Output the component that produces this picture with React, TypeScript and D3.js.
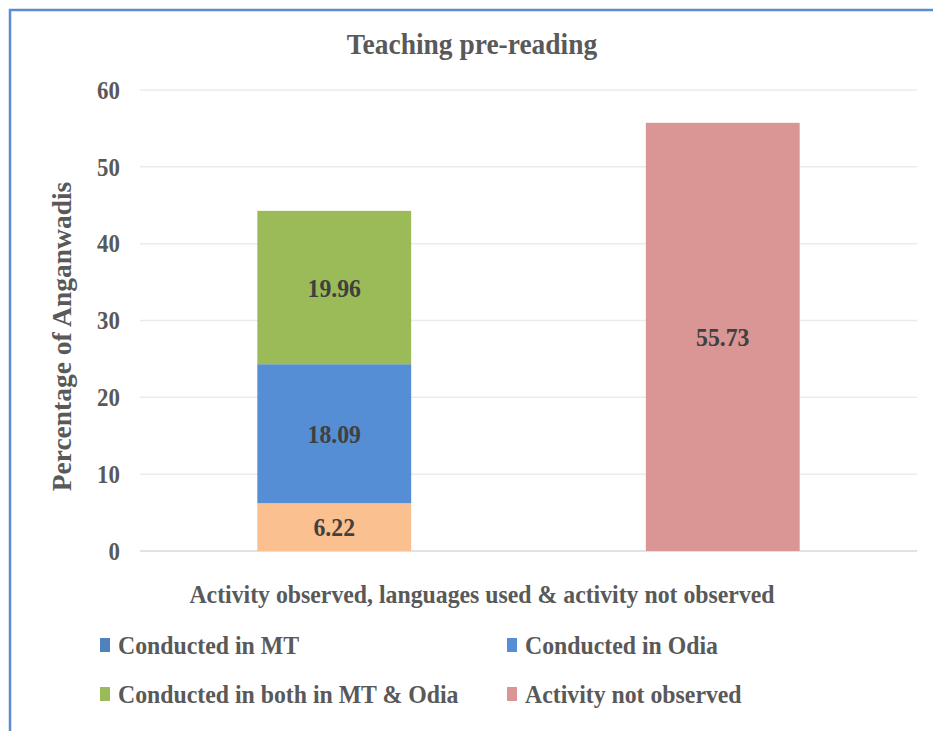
import React from 'react';
import * as d3 from 'd3';

const categories = ['Activity observed', 'Activity not observed'];
const seriesNames = [
  'Conducted in MT',
  'Conducted in Odia',
  'Conducted in both in MT & Odia',
  'Activity not observed',
];
const mtValues = [6.22, 0];
const odiaValues = [18.09, 0];
const bothValues = [19.96, 0];
const notObservedValues = [0, 55.73];
const yTicks = [0, 10, 20, 30, 40, 50, 60];

// bar fill colours, and the legend swatches as they appear in the picture
const barColors = ['#FAC090', '#558ED5', '#9BBB59', '#D99694'];
const legendColors = ['#4F81BD', '#558ED5', '#9BBB59', '#D99694'];

const W = 933;
const H = 731;
const margin = { top: 90, right: 16, bottom: 180, left: 140 };
const font = '"Liberation Serif", "Times New Roman", serif';
const squeeze = 0.915;

function squeezed(anchor: 'start' | 'middle' | 'end'): React.CSSProperties {
  const origin = anchor === 'start' ? 'left center' : anchor === 'end' ? 'right center' : 'center center';
  return { transform: `scaleX(${squeeze})`, transformBox: 'fill-box', transformOrigin: origin } as React.CSSProperties;
}

export default function App() {
  const rows = categories.map((c, i) => ({
    cat: c,
    s0: mtValues[i],
    s1: odiaValues[i],
    s2: bothValues[i],
    s3: notObservedValues[i],
  }));
  const stacked = d3.stack<any>().keys(['s0', 's1', 's2', 's3'])(rows);

  const x = d3
    .scaleBand()
    .domain(categories)
    .range([margin.left, W - margin.right])
    .paddingInner(0.604)
    .paddingOuter(0.302);
  const y = d3.scaleLinear().domain([0, 60]).range([H - margin.bottom, margin.top]);

  const legendX = [100, 507];
  const legendY = [645, 694];

  return (
    <svg
      width={W}
      height={H}
      style={{ position: 'absolute', left: 0, top: 0, background: '#fff' }}
      fontFamily={font}
      fontWeight="bold"
    >
      <path d={`M10,${H} L10,10 L${W},10`} fill="none" stroke="#5B8BD0" strokeWidth={2.5} />

      <text x={472} y={54} textAnchor="middle" fontSize={30} fill="#595959" style={squeezed('middle')}>
        Teaching pre-reading
      </text>

      {/* grid */}
      {yTicks.map(t => (
        <g key={t}>
          <line
            x1={margin.left}
            x2={W - margin.right}
            y1={y(t)}
            y2={y(t)}
            stroke={t === 0 ? '#D9D9D9' : '#EBEBEB'}
            strokeWidth={1.5}
          />
          <text x={120} y={y(t)} dy="0.35em" textAnchor="end" fontSize={25} fill="#595959" style={squeezed('end')}>
            {t}
          </text>
        </g>
      ))}

      <text
        transform={`translate(71,${(y(0) + y(60)) / 2 + 16}) rotate(-90)`}
        textAnchor="middle"
        fontSize={27.5}
        fill="#595959"
      >
        Percentage of Anganwadis
      </text>

      {/* bars */}
      {stacked.map((layer, si) => (
        <g key={layer.key} fill={barColors[si]}>
          {layer.map((d, i) =>
            d[1] - d[0] > 0 ? (
              <rect
                key={i}
                x={x(categories[i])}
                y={y(d[1])}
                width={x.bandwidth()}
                height={y(d[0]) - y(d[1])}
              />
            ) : null
          )}
        </g>
      ))}
      {stacked.map((layer, si) =>
        layer.map((d, i) =>
          d[1] - d[0] > 0 ? (
            <text
              key={`${si}-${i}`}
              x={(x(categories[i]) as number) + x.bandwidth() / 2}
              y={(y(d[0]) + y(d[1])) / 2}
              dy="0.35em"
              textAnchor="middle"
              fontSize={26}
              fill="#404040"
              style={squeezed('middle')}
            >
              {(d[1] - d[0]).toFixed(2)}
            </text>
          ) : null
        )
      )}

      <text x={482} y={603} textAnchor="middle" fontSize={26} fill="#595959" style={squeezed('middle')}>
        Activity observed, languages used &amp; activity not observed
      </text>

      {/* legend */}
      {seriesNames.map((name, i) => {
        const lx = legendX[i % 2];
        const ly = legendY[Math.floor(i / 2)];
        return (
          <g key={name}>
            <rect x={lx} y={ly - 7} width={10} height={14} fill={legendColors[i]} />
            <text x={lx + 18} y={ly} dy="0.35em" fontSize={26} fill="#595959" style={squeezed('start')}>
              {name}
            </text>
          </g>
        );
      })}
    </svg>
  );
}
